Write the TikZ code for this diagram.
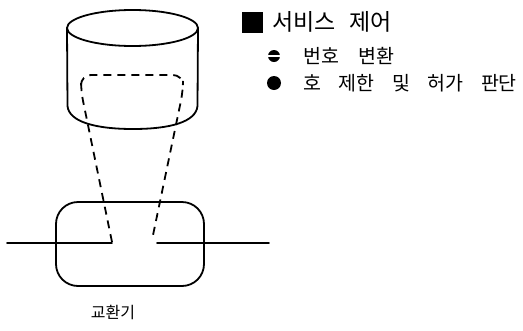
\documentclass[tikz,border=0pt]{standalone}
\usepackage{fontspec}
\newfontfamily\kr{Noto Sans CJK KR}
\begin{document}
\begin{tikzpicture}[x=1pt,y=-1pt,
  solidline/.style={line width=1.8pt, line cap=round, line join=round},
  dashline/.style={line width=1.8pt, dash pattern=on 8pt off 6pt},
  label/.style={font=\kr, inner sep=0pt, anchor=west},
]
\useasboundingbox (0,0) rectangle (523,330);
% cylinder (database)
\draw[solidline] (132.5,28) ellipse [x radius=65.5pt, y radius=18pt];
\draw[solidline] (67,28) -- (67.5,106)
  .. controls (69,122) and (96,129) .. (133,129)
  .. controls (170,129) and (196,122) .. (197.5,106) -- (198,28);
% switch
\node[draw, solidline, rounded corners=22pt, minimum width=148pt, minimum height=84pt, inner sep=0pt] (sw) at (130,244) {};
\coordinate (linL) at (7,243);
\coordinate (endL) at (112,243);
\coordinate (begR) at (157,243);
\coordinate (linR) at (269,243);
\draw[solidline] (linL) -- (endL);
\draw[solidline] (begR) -- (linR);
% dashed signalling path
\coordinate (dL) at (112,242);
\coordinate (dR) at (152,240);
\draw[dashline, rounded corners=10pt] (dL) -- (81,91) -- (81,75) -- (183,75) -- (183,91) -- (dR);
% labels
\node[label, font=\kr\fontsize{16pt}{16pt}\selectfont, anchor=center] (kyo) at (113,312) {교환기};
\fill (242,12) rectangle (263,33);
\node[label, font=\kr\fontsize{23pt}{23pt}\selectfont] (t1) at (272,22) {서비스\hspace{0.6em}제어};
\fill (274,56) circle (6pt);
\draw[white, line width=1.5pt] (266,56) -- (282,56);
\node[label, font=\kr\fontsize{19.5pt}{19.5pt}\selectfont] (t2) at (303,56) {번호\hspace{1em}변환};
\fill (274,83) circle (7pt);
\node[label, font=\kr\fontsize{19.5pt}{19.5pt}\selectfont] (t3) at (303,83) {호\hspace{0.9em}제한\hspace{0.9em}및\hspace{0.9em}허가\hspace{0.9em}판단};
\end{tikzpicture}
\end{document}
